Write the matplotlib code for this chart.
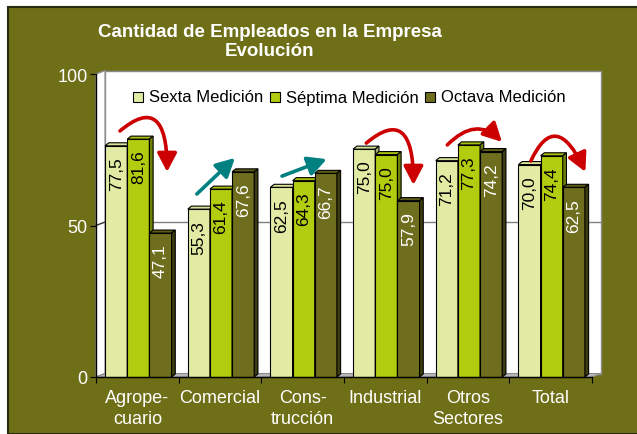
import numpy as np
import matplotlib.pyplot as plt
from matplotlib.patches import Rectangle, Polygon

plt.rcParams['font.family'] = ['Liberation Sans', 'DejaVu Sans']

# data
categories = ['Agrope-\ncuario', 'Comercial', 'Cons-\ntrucción', 'Industrial', 'Otros\nSectores', 'Total']
series_names = ['Sexta Medición', 'Séptima Medición', 'Octava Medición']
sexta = [76.3, 55.4, 62.6, 75.2, 71.4, 70.1]
septima = [78.5, 62.0, 64.8, 73.4, 76.6, 73.0]
octava = [47.5, 67.7, 67.2, 58.2, 74.4, 62.6]
sexta_labels = ['77,5', '55,3', '62,5', '75,0', '71,2', '70,0']
septima_labels = ['81,6', '61,4', '64,3', '75,0', '77,3', '74,4']
octava_labels = ['47,1', '67,6', '66,7', '57,9', '74,2', '62,5']

# trend arrows: (start, tip, color, connection)
arrows = [
    ((0.29, 81.2), (0.86, 67.7), '#cc0000', 'angle3,angleA=40,angleB=90'),
    ((1.22, 60.4), (1.68, 72.3), '#008080', 'arc3'),
    ((2.25, 66.3), (2.79, 71.9), '#008080', 'arc3'),
    ((3.27, 77.2), (3.84, 63.4), '#cc0000', 'angle3,angleA=40,angleB=90'),
    ((4.25, 76.6), (4.91, 77.6), '#cc0000', 'angle3,angleA=45,angleB=-45'),
    ((5.26, 71.3), (5.92, 67.7), '#cc0000', 'angle3,angleA=65,angleB=-65'),
]

olive = '#6f6f18'
front_cols = ['#e2eba4', '#b2cc10', '#6e6e1e']
side_cols = ['#a8b070', '#6f8208', '#3c3c0c']
top_cols = ['#d8e298', '#a6bf0c', '#5c5c16']
text_cols = ['black', 'black', 'white']

W, H = 637, 435
fig = plt.figure(figsize=(W / 100, H / 100), dpi=100, facecolor='white')
fig.patches.append(Rectangle((8 / W, 0), 1, (H - 8) / H, transform=fig.transFigure,
                             facecolor=olive, edgecolor='#2a2a10', lw=1.5, zorder=-10))

ax = fig.add_axes([96 / W, 57 / H, 496 / W, 303 / H])
ax.set_facecolor('none')
ax.set_xlim(0, 6)
ax.set_ylim(0, 100)

# wall depth in data units
dx, dy = 0.11, 1.15
wall_ec = '#8c8c8c'
ax.add_patch(Polygon([(dx, dy), (6 + dx, dy), (6 + dx, 100 + dy), (dx, 100 + dy)],
                     facecolor='white', edgecolor=wall_ec, lw=1, clip_on=False, zorder=0))
ax.add_patch(Polygon([(0, 0), (dx, dy), (dx, 100 + dy), (0, 100)],
                     facecolor='white', edgecolor=wall_ec, lw=1, clip_on=False, zorder=0.5))
ax.add_patch(Polygon([(0, 0), (6, 0), (6 + dx, dy), (dx, dy)],
                     facecolor='#b8b8b8', edgecolor=wall_ec, lw=0.8, clip_on=False, zorder=0.5))
ax.plot([dx, 6 + dx], [50 + dy, 50 + dy], color='#808080', lw=1, clip_on=False, zorder=0.6)
ax.plot([0, dx], [50, 50 + dy], color='#303030', lw=1, clip_on=False, zorder=0.6)

# 3d bars
bw = 0.268
start = 0.11
bdx, bdy = 0.045, 1.0
series = [sexta, septima, octava]
labels = [sexta_labels, septima_labels, octava_labels]
z = 2
for i in range(len(categories)):
    for k in range(3):
        h = series[k][i]
        x0 = i + start + k * bw
        ax.add_patch(Rectangle((x0, 0), bw, h, facecolor=front_cols[k], edgecolor='black',
                               lw=0.8, zorder=z, clip_on=False))
        ax.add_patch(Polygon([(x0, h), (x0 + bw, h), (x0 + bw + bdx, h + bdy), (x0 + bdx, h + bdy)],
                             facecolor=top_cols[k], edgecolor='black', lw=0.8, zorder=z, clip_on=False))
        ax.add_patch(Polygon([(x0 + bw, 0), (x0 + bw + bdx, bdy), (x0 + bw + bdx, h + bdy), (x0 + bw, h)],
                             facecolor=side_cols[k], edgecolor='black', lw=0.8, zorder=z, clip_on=False))
        ax.text(x0 + bw / 2, h - 3.5, labels[k][i], rotation=90, ha='center', va='top',
                fontsize=12.5, color=text_cols[k], zorder=50)
        z += 1

for p0, p1, col, conn in arrows:
    ax.annotate('', xy=p1, xytext=p0,
                arrowprops=dict(arrowstyle='-|>,head_length=0.8,head_width=0.42', color=col,
                                lw=2.6, mutation_scale=14, shrinkA=0, shrinkB=0,
                                connectionstyle=conn), zorder=60, annotation_clip=False)

# axes styling
for s in ['top', 'right']:
    ax.spines[s].set_visible(False)
for s in ['left', 'bottom']:
    ax.spines[s].set_color('black')
    ax.spines[s].set_linewidth(1)
    ax.spines[s].set_zorder(40)
ax.set_yticks([0, 50, 100])
ax.set_yticklabels(['0', '50', '100'])
ax.set_xticks(np.arange(0, 7))
ax.set_xticklabels([])
ax.set_xticks(np.arange(len(categories)) + 0.5, minor=True)
ax.set_xticklabels(categories, minor=True, linespacing=1.25)
ax.tick_params(axis='y', direction='out', length=4, color='black', labelcolor='white',
               labelsize=13, pad=2)
ax.tick_params(axis='x', which='major', direction='out', length=4, color='black')
ax.tick_params(axis='x', which='minor', length=0, labelcolor='white', labelsize=13, pad=9)

# title
fig.text(270 / W, 1 - 37 / H, 'Cantidad de Empleados en la Empresa', ha='center', va='baseline',
         fontsize=13.5, fontweight='bold', color='white')
fig.text(270 / W, 1 - 56 / H, 'Evolución', ha='center', va='baseline',
         fontsize=13.5, fontweight='bold', color='white')

# legend
leg_x = [133, 270, 425]
for k in range(3):
    fig.patches.append(Rectangle((leg_x[k] / W, 1 - 102.5 / H), 10 / W, 10 / H,
                                 transform=fig.transFigure, facecolor=front_cols[k],
                                 edgecolor='black', lw=0.8, zorder=70))
    fig.text((leg_x[k] + 16) / W, 1 - 102.5 / H, series_names[k], ha='left', va='baseline',
             fontsize=12, color='black', zorder=70)

fig.savefig('out.png', dpi=100, facecolor=fig.get_facecolor())
